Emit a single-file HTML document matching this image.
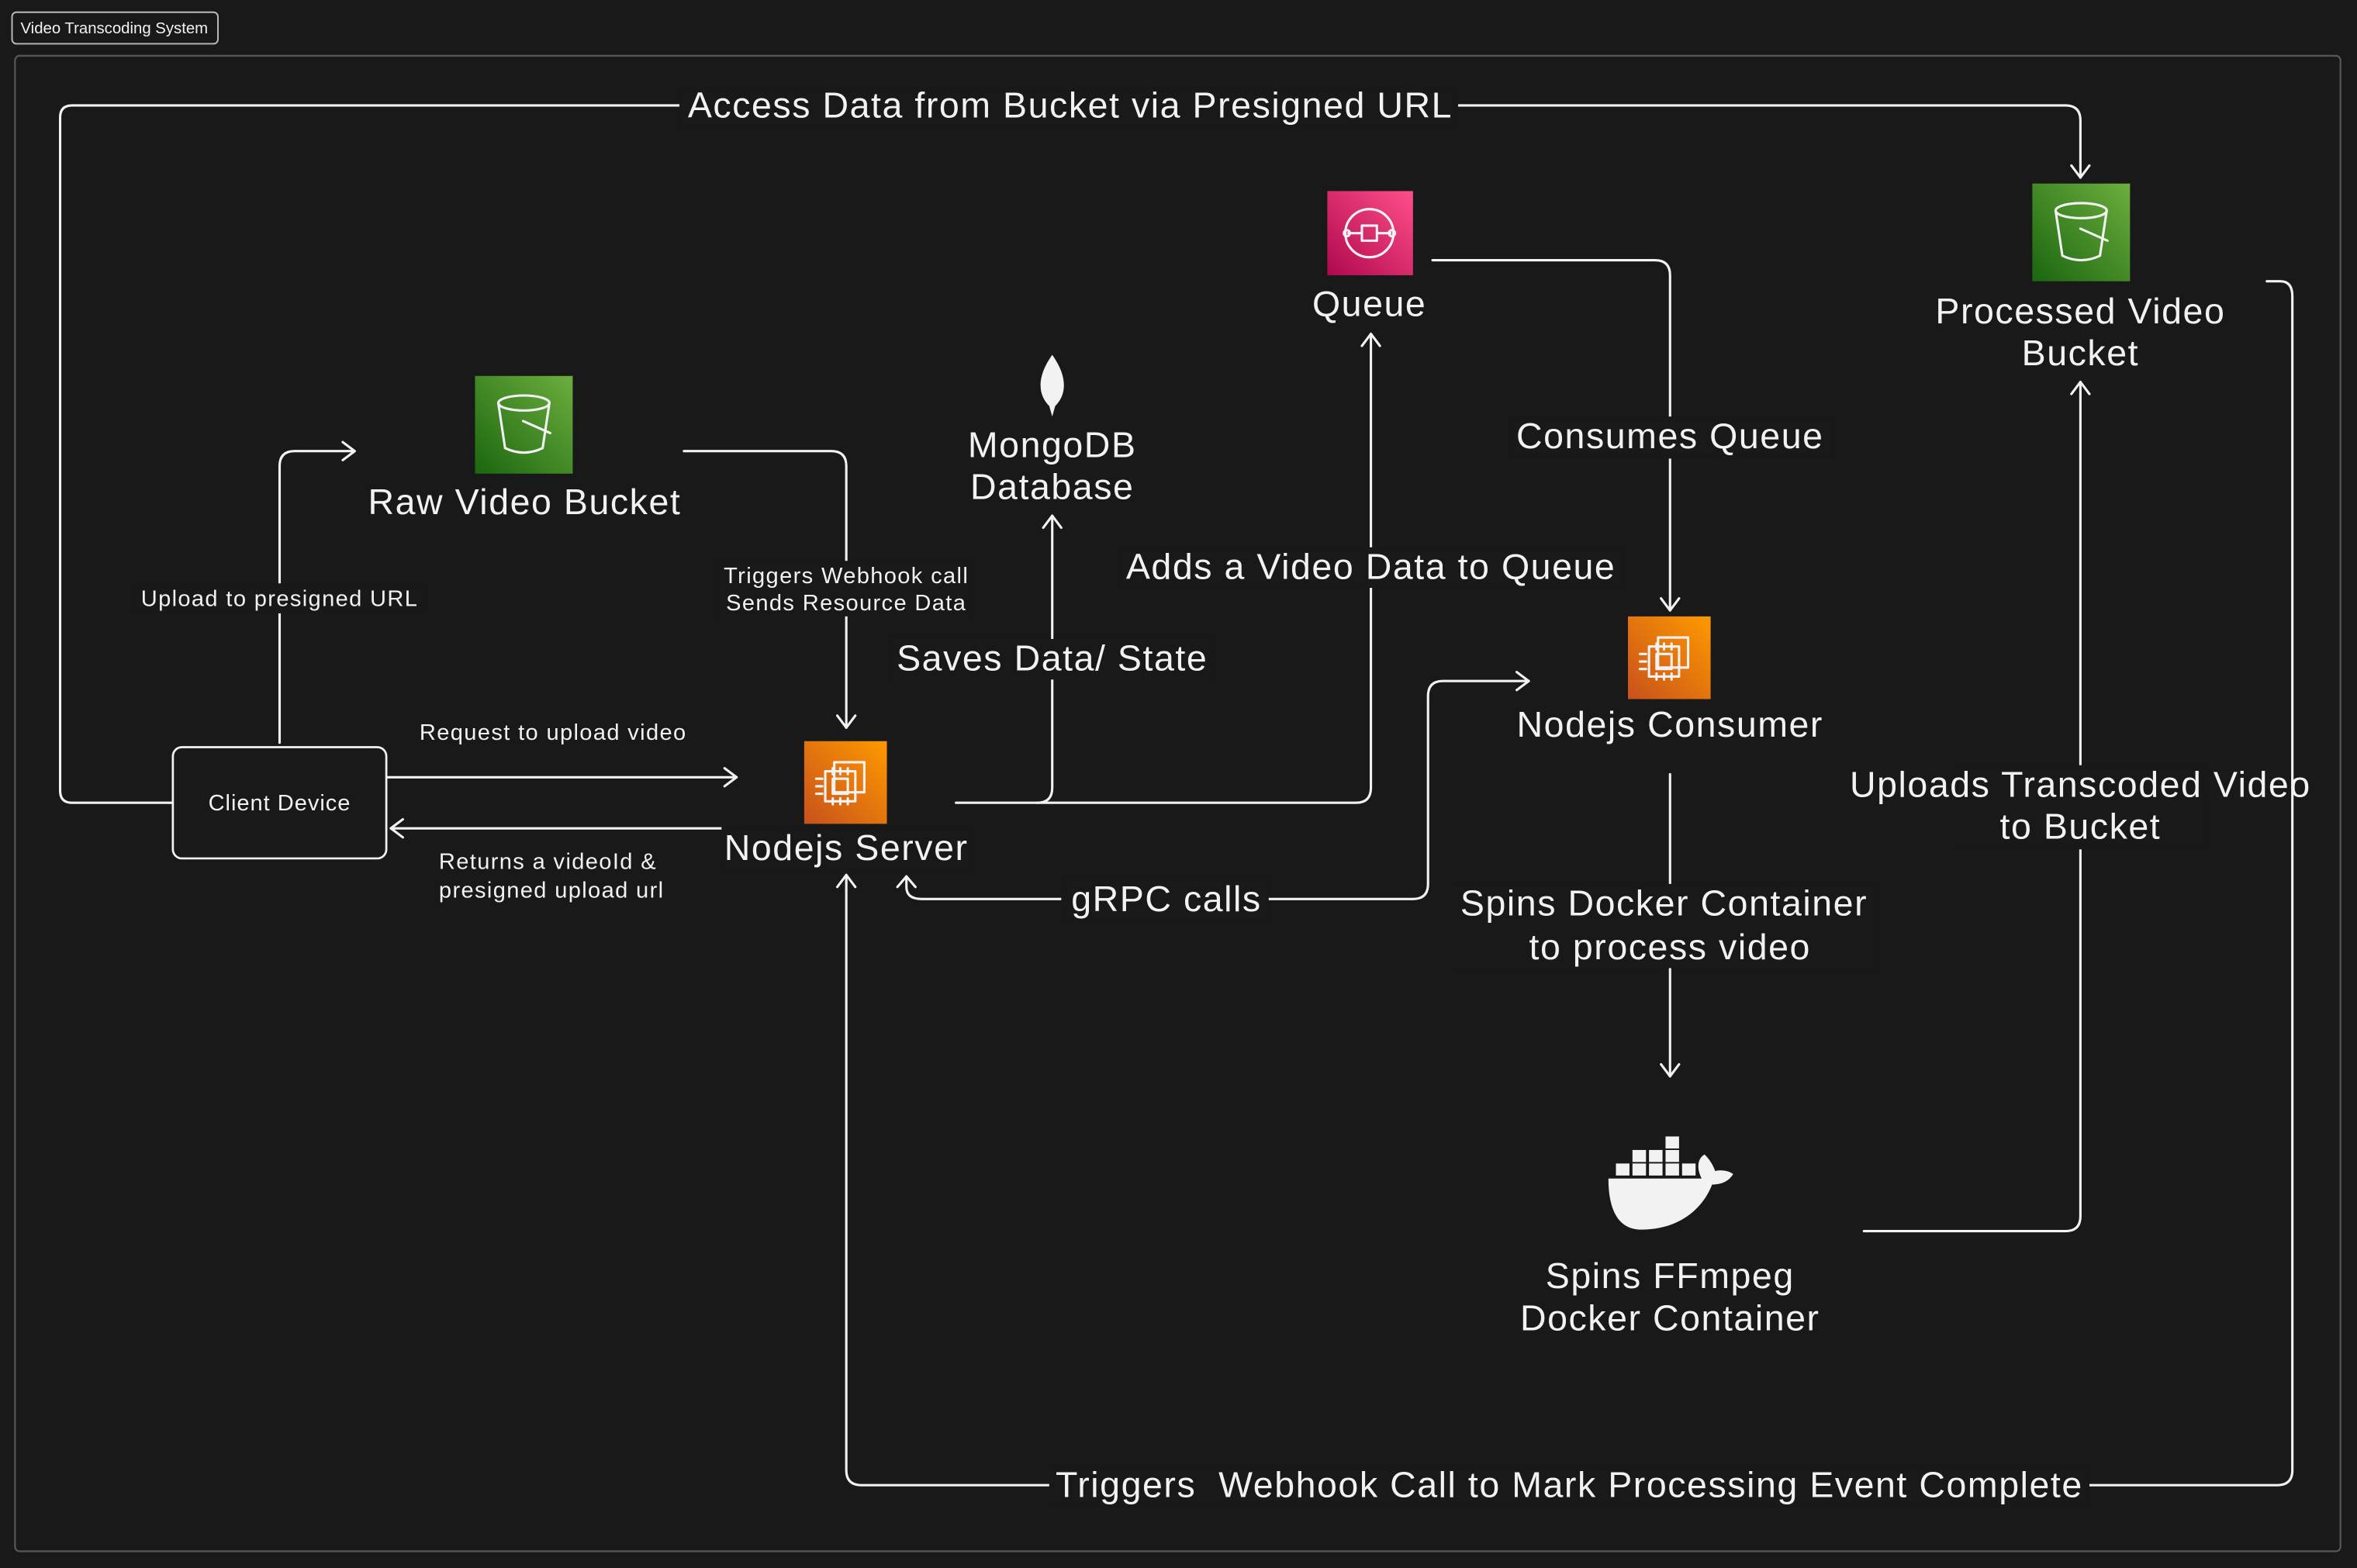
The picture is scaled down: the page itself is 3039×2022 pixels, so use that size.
<!DOCTYPE html>
<html><head><meta charset="utf-8"><style>
html,body{margin:0;padding:0;background:#191919;}
svg{display:block}
text{font-family:"Liberation Sans",sans-serif;fill:#f2f2f2;}
.l{font-size:24px;letter-spacing:0.8px;text-anchor:middle;}
.s{font-size:15px;letter-spacing:0.7px;text-anchor:middle;}
.w{fill:none;stroke:#f2f2f2;stroke-width:1.6;stroke-linecap:round;stroke-linejoin:round}
.bg{fill:#191919}
</style></head><body>
<svg width="3039" height="2022" viewBox="0 0 1568 1043" xmlns="http://www.w3.org/2000/svg">
<rect width="1568" height="1043" fill="#191919"/>
<rect x="10" y="37" width="1547" height="995" rx="3" fill="none" stroke="#555" stroke-width="1.2"/>
<rect x="8" y="8" width="137" height="21" rx="3" fill="#191919" stroke="#bbb" stroke-width="1"/>
<text x="76" y="22" style="font-size:10.5px;text-anchor:middle">Video Transcoding System</text>

<g class="w">
<path d="M115 534 H48 Q40 534 40 526 V78 Q40 70 48 70 H1374 Q1384 70 1384 80 V118"/><path d="M1378 110 L1384 118 L1390 110"/>
<path d="M186 494 V310 Q186 300 196 300 H235"/><path d="M228 294 L236 300 L228 306"/>
<path d="M455 300 H553 Q563 300 563 310 V484"/><path d="M557 476 L563 484 L569 476"/>
<path d="M258 517 H490"/><path d="M482 511 L490 517 L482 523"/>
<path d="M490 551 H260"/><path d="M268 545 L260 551 L268 557"/>
<path d="M636 534 H690 Q700 534 700 524 V343"/><path d="M694 351 L700 343 L706 351"/>
<path d="M690 534 H902 Q912 534 912 524 V222"/><path d="M906 230 L912 222 L918 230"/>
<path d="M953 173 H1101 Q1111 173 1111 183 V406"/><path d="M1105 398 L1111 406 L1117 398"/>
<path d="M603 583 V590 Q603 598 613 598 H940 Q950 598 950 588 V463 Q950 453 960 453 H1017"/><path d="M597 590 L603 583 L609 590"/><path d="M1009 447 L1017 453 L1009 459"/>
<path d="M1111 515 V716"/><path d="M1105 708 L1111 716 L1117 708"/>
<path d="M1240 819 H1374 Q1384 819 1384 809 V254"/><path d="M1378 262 L1384 254 L1390 262"/>
<path d="M1508 187 H1517 Q1525 187 1525 197 V978 Q1525 988 1515 988 H573 Q563 988 563 978 V582"/><path d="M557 590 L563 582 L569 590"/>
</g>

<rect class="bg" x="452" y="58" width="518" height="26"/>
<rect class="bg" x="90" y="388" width="192" height="20"/>
<rect class="bg" x="478" y="373" width="170" height="37"/>
<rect class="bg" x="592" y="425" width="216" height="27"/>
<rect class="bg" x="744" y="364" width="336" height="27"/>
<rect class="bg" x="1004" y="277" width="214" height="28"/>
<rect class="bg" x="706" y="585" width="138" height="27"/>
<rect class="bg" x="966" y="588" width="282" height="56"/>
<rect class="bg" x="1300" y="509" width="168" height="56"/>
<rect class="bg" x="698" y="975" width="692" height="27"/>
<rect class="bg" x="480" y="550" width="166" height="28"/>

<rect x="115" y="497" width="142" height="74" rx="6" fill="#191919" stroke="#f2f2f2" stroke-width="1.4"/>
<text x="186" y="539" style="font-size:15px;letter-spacing:0.5px;text-anchor:middle">Client Device</text>

<defs>
<linearGradient id="g" x1="0" y1="1" x2="1" y2="0"><stop offset="0" stop-color="#1b660f"/><stop offset="1" stop-color="#6cae3e"/></linearGradient>
<linearGradient id="o" x1="0" y1="1" x2="1" y2="0"><stop offset="0" stop-color="#c8511b"/><stop offset="1" stop-color="#ff9900"/></linearGradient>
<linearGradient id="p" x1="0" y1="1" x2="1" y2="0"><stop offset="0" stop-color="#b0084d"/><stop offset="1" stop-color="#ff4f8b"/></linearGradient>
<g id="bucket"><rect width="65" height="65" fill="url(#g)"/>
<g class="w" stroke-width="2"><ellipse cx="32.5" cy="18" rx="17" ry="5"/><path d="M15.5 18 L20 48 Q32.5 54 45 48 L49.5 18"/><path d="M32 30 L50 38"/></g></g>
<g id="chip"><rect width="55" height="55" fill="url(#o)"/>
<g class="w" stroke-width="1.5"><rect x="20" y="14" width="20" height="20"/><rect x="14" y="20" width="20" height="20"/><rect x="19" y="25" width="10" height="10"/><path d="M19 22V18M24 22V18M29 22V18M19 38V42M24 38V42M29 38V42M12 25H8M12 30H8M12 35H8"/></g></g>
</defs>
<use href="#bucket" x="316" y="250"/>
<use href="#bucket" x="1352" y="122"/>
<use href="#chip" x="535" y="493"/>
<use href="#chip" x="1083" y="410"/>
<rect x="883" y="127" width="57" height="56" fill="url(#p)"/>
<g class="w" stroke-width="1.5"><circle cx="911" cy="155" r="16"/><rect x="906" y="150" width="10" height="10"/><path d="M897 155H906M916 155H925"/><circle cx="896" cy="155" r="2"/><circle cx="926" cy="155" r="2"/></g>
<path d="M700 236 C690 250 690 262 698 270 L700 277 L702 270 C710 262 710 250 700 236Z" fill="#f2f2f2"/>

<g fill="#f2f2f2">
<rect x="1075" y="774" width="9" height="8"/><rect x="1086" y="774" width="9" height="8"/><rect x="1097" y="774" width="9" height="8"/><rect x="1108" y="774" width="9" height="8"/><rect x="1119" y="774" width="9" height="8"/>
<rect x="1086" y="765" width="9" height="8"/><rect x="1097" y="765" width="9" height="8"/><rect x="1108" y="765" width="9" height="8"/>
<rect x="1108" y="756" width="9" height="8"/>
<path d="M1070 784 H1132 C1128 776 1130 770 1134 768 C1138 772 1140 776 1141 779 C1146 778 1150 779 1153 781 C1150 786 1145 788 1139 788 C1132 806 1115 818 1092 818 C1076 818 1070 804 1070 784Z"/>
</g>

<text class="l" x="712" y="78">Access Data from Bucket via Presigned URL</text>
<text class="l" x="1384" y="215">Processed Video</text><text class="l" x="1384" y="243">Bucket</text>
<text class="l" x="911" y="210">Queue</text>
<text class="l" x="700" y="304">MongoDB</text><text class="l" x="700" y="332">Database</text>
<text class="l" x="349" y="342">Raw Video Bucket</text>
<text class="s" x="186" y="403">Upload to presigned URL</text>
<text class="s" x="563" y="388">Triggers Webhook call</text><text class="s" x="563" y="406">Sends Resource Data</text>
<text class="s" x="368" y="492">Request to upload video</text>
<text class="s" x="292" y="578" style="text-anchor:start">Returns a videoId &amp;</text><text class="s" x="292" y="597" style="text-anchor:start">presigned upload url</text>
<text class="l" x="563" y="572">Nodejs Server</text>
<text class="l" x="700" y="446">Saves Data/ State</text>
<text class="l" x="912" y="385">Adds a Video Data to Queue</text>
<text class="l" x="1111" y="298">Consumes Queue</text>
<text class="l" x="1111" y="490">Nodejs Consumer</text>
<text class="l" x="776" y="606">gRPC calls</text>
<text class="l" x="1107" y="609">Spins Docker Container</text><text class="l" x="1111" y="638">to process video</text>
<text class="l" x="1384" y="530">Uploads Transcoded Video</text><text class="l" x="1384" y="558">to Bucket</text>
<text class="l" x="1111" y="857">Spins FFmpeg</text><text class="l" x="1111" y="885">Docker Container</text>
<text class="l" x="1044" y="996" style="white-space:pre">Triggers  Webhook Call to Mark Processing Event Complete</text>
</svg>
</body></html>
